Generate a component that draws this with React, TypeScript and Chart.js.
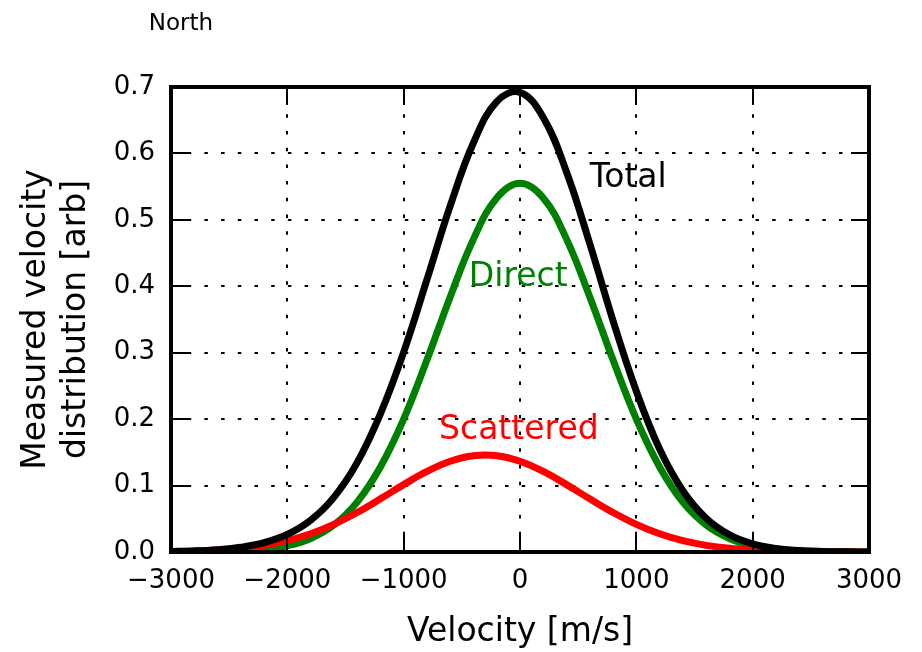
import React, { useEffect, useRef } from "react";
import { Chart, registerables } from "chart.js";

Chart.register(...registerables);

// ---- data ----
const velocity = [
  -3000, -2800, -2600, -2400, -2200, -2000, -1800, -1600, -1400, -1200, -1000,
  -800, -600, -400, -200, 0, 200, 400, 600, 800, 1000, 1200, 1400, 1600, 1800,
  2000, 2200, 2400, 2600, 2800, 3000,
];
const totalValues = [
  0.0007, 0.0016, 0.0035, 0.0071, 0.014, 0.0264, 0.0478, 0.0823, 0.1345, 0.208,
  0.301, 0.41, 0.521, 0.616, 0.678, 0.692, 0.654, 0.572, 0.464, 0.348, 0.242,
  0.155, 0.0921, 0.0507, 0.0259, 0.0123, 0.0054, 0.0023, 0.0009, 0.0003, 0.0001,
];
const directValues = [
  0.0001, 0.0002, 0.0006, 0.0016, 0.004, 0.0094, 0.0204, 0.0407, 0.0751, 0.128,
  0.2, 0.289, 0.384, 0.471, 0.533, 0.555, 0.533, 0.471, 0.384, 0.289, 0.2,
  0.128, 0.0751, 0.0407, 0.0204, 0.0094, 0.004, 0.0016, 0.0006, 0.0002, 0.0001,
];
const scatteredValues = [
  0.0006, 0.0014, 0.0029, 0.0055, 0.01, 0.017, 0.0274, 0.0416, 0.0594, 0.08,
  0.1014, 0.1212, 0.1366, 0.1449, 0.1449, 0.1366, 0.1212, 0.1014, 0.08, 0.0594,
  0.0416, 0.0274, 0.017, 0.01, 0.0055, 0.0029, 0.0014, 0.0007, 0.0003, 0.0001,
  0.0,
];
const xTicks = [-3000, -2000, -1000, 0, 1000, 2000, 3000];
const yTicks = [0, 0.1, 0.2, 0.3, 0.4, 0.5, 0.6, 0.7];

const seriesLabels = ["Total", "Direct", "Scattered"];
// annotation anchor positions in data units [velocity, value]
const labelX = [930, -15, -10];
const labelY = [0.55, 0.4, 0.17];

const title = "North";
const xTitle = "Velocity [m/s]";
const yTitle = ["Measured velocity", "distribution [arb]"];

const FONT = "'DejaVu Sans', 'Liberation Sans', sans-serif";
const colors = ["#000000", "#008000", "#ff0000"];

const fmtX = (v: number) => (v < 0 ? "\u2212" + Math.abs(v) : String(v));

const framePlugin = {
  id: "mplFrame",
  beforeDatasetsDraw(chart: any) {
    const { ctx, chartArea: a, scales } = chart;
    const xs = scales.x;
    const ys = scales.y;
    ctx.save();
    ctx.strokeStyle = "#000";
    ctx.lineWidth = 2;
    ctx.setLineDash([3.5, 13.2]);
    for (const v of xTicks) {
      const px = Math.round(xs.getPixelForValue(v));
      if (px <= a.left + 2 || px >= a.right - 2) continue;
      ctx.beginPath();
      ctx.moveTo(px, a.bottom);
      ctx.lineTo(px, a.top);
      ctx.stroke();
    }
    for (const v of yTicks) {
      const py = Math.round(ys.getPixelForValue(v));
      if (py <= a.top + 2 || py >= a.bottom - 2) continue;
      ctx.beginPath();
      ctx.moveTo(a.left, py);
      ctx.lineTo(a.right, py);
      ctx.stroke();
    }
    ctx.restore();
  },
  afterDatasetsDraw(chart: any) {
    const { ctx, chartArea: a, scales } = chart;
    const xs = scales.x;
    const ys = scales.y;
    ctx.save();
    ctx.strokeStyle = "#000";
    ctx.setLineDash([]);
    // inward ticks on all four sides
    const tl = 18;
    ctx.lineWidth = 2;
    for (const v of xTicks) {
      const px = Math.round(xs.getPixelForValue(v));
      ctx.beginPath();
      ctx.moveTo(px, a.bottom);
      ctx.lineTo(px, a.bottom - tl);
      ctx.moveTo(px, a.top);
      ctx.lineTo(px, a.top + tl);
      ctx.stroke();
    }
    for (const v of yTicks) {
      const py = Math.round(ys.getPixelForValue(v));
      ctx.beginPath();
      ctx.moveTo(a.left, py);
      ctx.lineTo(a.left + tl, py);
      ctx.moveTo(a.right, py);
      ctx.lineTo(a.right - tl, py);
      ctx.stroke();
    }
    // frame
    ctx.lineWidth = 4;
    ctx.strokeRect(a.left, a.top, a.right - a.left, a.bottom - a.top);

    // series annotations
    ctx.font = `33px ${FONT}`;
    ctx.textAlign = "center";
    ctx.textBaseline = "alphabetic";
    seriesLabels.forEach((t, i) => {
      ctx.fillStyle = colors[i];
      ctx.fillText(t, xs.getPixelForValue(labelX[i]), ys.getPixelForValue(labelY[i]));
    });

    // figure title
    ctx.font = `23px ${FONT}`;
    ctx.fillStyle = "#000";
    ctx.fillText(title, 181, 30);
    ctx.restore();
  },
};

export default function App() {
  const ref = useRef<HTMLCanvasElement | null>(null);
  useEffect(() => {
    if (!ref.current) return;
    const mk = (vals: number[]) => velocity.map((v, i) => ({ x: v, y: vals[i] }));
    const chart = new Chart(ref.current, {
      type: "line",
      data: {
        datasets: [
          { label: "Total", data: mk(totalValues), borderColor: colors[0], order: 0 },
          { label: "Scattered", data: mk(scatteredValues), borderColor: colors[2], order: 1 },
          { label: "Direct", data: mk(directValues), borderColor: colors[1], order: 2 },
        ].map((d) => ({
          ...d,
          borderWidth: 7,
          pointRadius: 0,
          tension: 0.4,
          fill: false,
          clip: 0,
          borderCapStyle: "butt" as const,
        })),
      },
      options: {
        animation: false,
        responsive: false,
        maintainAspectRatio: false,
        events: [],
        layout: { padding: { left: 0, top: 87, right: 53, bottom: 0 } },
        plugins: { legend: { display: false }, tooltip: { enabled: false }, title: { display: false } },
        scales: {
          x: {
            type: "linear",
            min: -3000,
            max: 3000,
            grid: { display: false, drawTicks: false },
            border: { display: false },
            afterBuildTicks: (s: any) => {
              s.ticks = xTicks.map((v) => ({ value: v }));
            },
            afterFit: (s: any) => {
              s.height = 100;
            },
            ticks: {
              color: "#000",
              font: { family: FONT, size: 26 },
              padding: 14,
              maxRotation: 0,
              autoSkip: false,
              callback: (v: any) => fmtX(Number(v)),
            },
            title: {
              display: true,
              text: xTitle,
              color: "#000",
              font: { family: FONT, size: 33 },
              padding: { top: 0, bottom: 0 },
            },
          },
          y: {
            type: "linear",
            min: 0,
            max: 0.7,
            grid: { display: false, drawTicks: false },
            border: { display: false },
            afterBuildTicks: (s: any) => {
              s.ticks = yTicks.map((v) => ({ value: v }));
            },
            afterFit: (s: any) => {
              s.width = 171;
            },
            ticks: {
              color: "#000",
              font: { family: FONT, size: 26 },
              padding: 16,
              autoSkip: false,
              callback: (v: any) => Number(v).toFixed(1),
            },
            title: {
              display: true,
              text: yTitle,
              color: "#000",
              font: { family: FONT, size: 33 },
              padding: { top: 17, bottom: 0 },
            },
          },
        },
      },
      plugins: [framePlugin],
    });
    return () => chart.destroy();
  }, []);
  return (
    <div style={{ position: "absolute", left: 0, top: 0, width: 922, height: 652, background: "#fff" }}>
      <canvas ref={ref} width={922} height={652} style={{ display: "block" }} />
    </div>
  );
}
